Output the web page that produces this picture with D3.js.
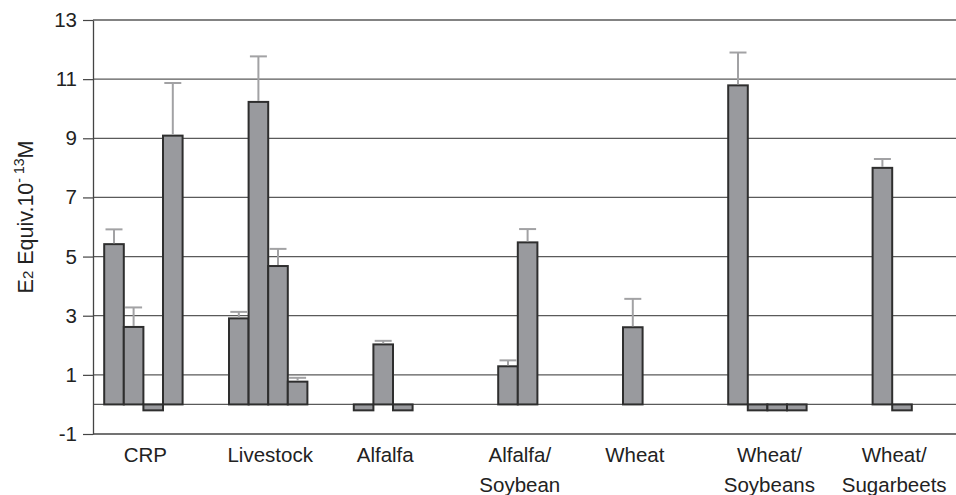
<!DOCTYPE html>
<html>
<head>
<meta charset="utf-8">
<script src="https://cdn.jsdelivr.net/npm/d3@7"></script>
<style>
  html, body { margin: 0; padding: 0; background: #fff; }
  svg { display: block; font-family: "Liberation Sans", Arial, Helvetica, sans-serif; }
</style>
</head>
<body>
<svg id="chart" width="956" height="495"></svg>
<script>
// Sampling sites (x categories)
const categories = ["CRP", "Livestock", "Alfalfa", "Alfalfa/Soybean", "Wheat", "Wheat/Soybeans", "Wheat/Sugarbeets"];

// Four sample slots per site; null = no sample
const seriesKeys = ["s1", "s2", "s3", "s4"];
const series1 = [5.42, 2.91, -0.2, null, null, 10.79, null];
const series2 = [2.62, 10.23, 2.03, 1.29, 2.61, -0.2, 8.0];
const series3 = [-0.2, 4.68, -0.2, 5.48, null, -0.2, -0.2];
const series4 = [9.09, 0.77, null, null, null, -0.2, null];

// Upper error (SD) for each bar
const error1 = [0.50, 0.22, null, null, null, 1.11, null];
const error2 = [0.66, 1.54, 0.12, 0.20, 0.96, null, 0.30];
const error3 = [null, 0.58, null, 0.45, null, null, null];
const error4 = [1.78, 0.13, null, null, null, null, null];

// Y axis ticks
const yTicks = [-1, 1, 3, 5, 7, 9, 11, 13];

const seriesValues = [series1, series2, series3, series4];
const seriesErrors = [error1, error2, error3, error4];

const svg = d3.select("#chart");
const axisX = 93, plotRight = 956;
const plotTop = 20, plotBottom = 434;
const FONT = "'Liberation Sans', Arial, sans-serif";

const y = d3.scaleLinear().domain([-1, 13]).range([plotBottom, plotTop]);

const groupStep = 124.8;
const x0 = d3.scaleBand()
  .domain(categories)
  .range([85.5, 85.5 + groupStep * categories.length])
  .paddingInner(0).paddingOuter(0);

const barW = 19.6;
const x1 = d3.scaleBand()
  .domain(seriesKeys)
  .range([18.7, 18.7 + barW * seriesKeys.length])
  .paddingInner(0).paddingOuter(0);

// Flatten into bar records
const bars = [];
categories.forEach((c, i) => {
  seriesKeys.forEach((k, j) => {
    const v = seriesValues[j][i];
    if (v !== null) bars.push({ cat: c, key: k, value: v, err: seriesErrors[j][i] });
  });
});
const barX = d => x0(d.cat) + x1(d.key);

// Horizontal gridlines (odd ticks) plus the zero baseline
const gridVals = yTicks.filter(t => t > -1).concat([0]);
svg.append("g")
  .selectAll("line")
  .data(gridVals)
  .join("line")
  .attr("x1", axisX).attr("x2", plotRight)
  .attr("y1", d => y(d)).attr("y2", d => y(d))
  .attr("stroke", "#5a5a5a")
  .attr("stroke-width", 1.3);

// Bottom axis line at -1
svg.append("line")
  .attr("x1", axisX).attr("x2", plotRight)
  .attr("y1", y(-1)).attr("y2", y(-1))
  .attr("stroke", "#444")
  .attr("stroke-width", 1.5);

// Y axis
const yAxis = d3.axisLeft(y)
  .tickValues(yTicks)
  .tickSizeInner(10)
  .tickSizeOuter(0)
  .tickPadding(6)
  .tickFormat(d => String(d));

const yG = svg.append("g")
  .attr("transform", `translate(${axisX},0)`)
  .call(yAxis);
yG.select(".domain").attr("stroke", "#444").attr("stroke-width", 1.3);
yG.selectAll(".tick line").attr("stroke", "#444").attr("stroke-width", 1.2);
yG.selectAll(".tick text")
  .attr("font-family", FONT)
  .attr("font-size", 20.5)
  .attr("fill", "#222");

// Bars
svg.append("g")
  .selectAll("rect")
  .data(bars)
  .join("rect")
  .attr("x", barX)
  .attr("width", x1.bandwidth())
  .attr("y", d => y(Math.max(0, d.value)))
  .attr("height", d => Math.abs(y(d.value) - y(0)))
  .attr("fill", "#999a9e")
  .attr("stroke", "#2e2e2e")
  .attr("stroke-width", 2);

// Upper error bars
const errBars = bars.filter(d => d.err !== null);
const capW = 17;
const cx = d => barX(d) + x1.bandwidth() / 2;
const eg = svg.append("g")
  .attr("stroke", "#a2a2a4")
  .attr("stroke-width", 2);
eg.selectAll("line.stem")
  .data(errBars)
  .join("line")
  .attr("class", "stem")
  .attr("x1", cx).attr("x2", cx)
  .attr("y1", d => y(d.value) - 1)
  .attr("y2", d => y(d.value + d.err));
eg.selectAll("line.cap")
  .data(errBars)
  .join("line")
  .attr("class", "cap")
  .attr("x1", d => cx(d) - capW / 2)
  .attr("x2", d => cx(d) + capW / 2)
  .attr("y1", d => y(d.value + d.err))
  .attr("y2", d => y(d.value + d.err));

// Category labels, centred over each site's bars (split after "/")
const labelG = svg.append("g").attr("transform", `translate(0,${plotBottom})`);
categories.forEach(c => {
  const cb = bars.filter(b => b.cat === c);
  const left = d3.min(cb, barX);
  const right = d3.max(cb, b => barX(b) + x1.bandwidth());
  const mid = (left + right) / 2 + 2;
  const parts = c.split("/");
  const lines = parts.length > 1 ? [parts[0] + "/", parts[1]] : [c];
  const t = labelG.append("text")
    .attr("text-anchor", "middle")
    .attr("fill", "#222")
    .attr("font-family", FONT)
    .attr("font-size", 20.5);
  lines.forEach((ln, i) => {
    t.append("tspan").attr("x", mid).attr("y", 28 + i * 30).text(ln);
  });
});

// Y axis title
const title = svg.append("text")
  .attr("transform", `translate(33,217) rotate(-90)`)
  .attr("text-anchor", "middle")
  .attr("fill", "#222")
  .attr("font-family", FONT)
  .attr("font-size", 21.5);
title.append("tspan").text("E");
title.append("tspan").attr("font-size", 15).text("2");
title.append("tspan").text(" Equiv.10");
title.append("tspan").attr("font-size", 14).attr("dy", -9).text("-");
title.append("tspan").attr("font-size", 14).text(" 13");
title.append("tspan").attr("dy", 9).text("M");
</script>
</body>
</html>
